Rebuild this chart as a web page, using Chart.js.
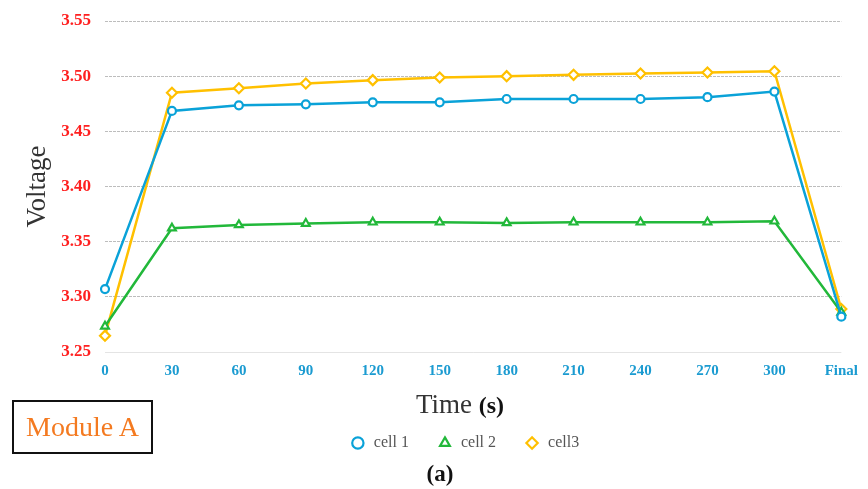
<!DOCTYPE html>
<html>
<head>
<meta charset="utf-8">
<script src="https://cdn.jsdelivr.net/npm/chart.js@4/dist/chart.umd.min.js"></script>
<style>
  body { margin: 0; background: #fff; }
  #wrap { position: relative; width: 868px; height: 489px; }
  .serif { font-family: "Liberation Serif", "Times New Roman", serif; position: absolute; }
  #xtitle { left: 0; width: 920px; text-align: center; top: 389px; font-size: 27px; color: #333; }
  #xtitle b { font-size: 24px; color: #111; }
  #module { left: 12px; top: 400px; width: 137px; height: 50px; border: 2px solid #111;
            color: #f47a20; font-size: 28px; line-height: 50px; text-align: center; }
  #sub { left: 0; width: 880px; text-align: center; top: 461px; font-size: 23px; font-weight: bold; color: #111; }
</style>
</head>
<body>
<div id="wrap">
  <canvas id="chart" width="868" height="489"></canvas>
  <div id="xtitle" class="serif">Time <b>(s)</b></div>
  <div id="module" class="serif">Module A</div>
  <div id="sub" class="serif">(a)</div>
</div>
<script>
const timeLabels = ["0", "30", "60", "90", "120", "150", "180", "210", "240", "270", "300", "Final"];
const cell1 = [3.307, 3.4685, 3.4736, 3.4745, 3.4763, 3.4763, 3.4793, 3.4793, 3.4793, 3.481, 3.486, 3.282];
const cell2 = [3.2733, 3.3622, 3.3652, 3.3664, 3.3676, 3.3676, 3.367, 3.3676, 3.3676, 3.3676, 3.3685, 3.286];
const cell3 = [3.2648, 3.485, 3.489, 3.4934, 3.4964, 3.4988, 3.500, 3.5012, 3.5024, 3.5033, 3.5045, 3.289];
const yMin = 3.25, yMax = 3.55, yStep = 0.05;

const serif = '"Liberation Serif", "Times New Roman", serif';

function series(label, data, color, style, radius) {
  return {
    label: label,
    data: data,
    borderColor: color,
    backgroundColor: "#fff",
    borderWidth: 2.5,
    tension: 0,
    pointStyle: style,
    pointRadius: radius,
    pointBorderWidth: 2.2,
    pointBackgroundColor: "#fff",
    pointBorderColor: color
  };
}

// the legend in the picture sits a bit right of the canvas centre
const legendShift = {
  id: "legendShift",
  afterLayout(chart) {
    chart.legend.left += 43;
    chart.legend.right += 43;
  }
};

new Chart(document.getElementById("chart"), {
  type: "line",
  data: {
    labels: timeLabels,
    datasets: [
      series("cell 1", cell1, "#0aa2d8", "circle", 4),
      series("cell 2", cell2, "#22b83a", "triangle", 4.5),
      series("cell3", cell3, "#ffc000", "rectRot", 5)
    ]
  },
  plugins: [legendShift],
  options: {
    responsive: false,
    devicePixelRatio: 1,
    animation: false,
    layout: { padding: { top: 21, right: 25, bottom: 28, left: 0 } },
    plugins: {
      tooltip: { enabled: false },
      legend: {
        position: "bottom",
        labels: {
          usePointStyle: true,
          boxHeight: 8,
          padding: 28,
          color: "#555",
          font: { family: serif, size: 16 }
        }
      }
    },
    scales: {
      x: {
        offset: false,
        grid: { display: false, drawTicks: false },
        border: { display: false },
        ticks: {
          padding: 10,
          color: "#1b9bd1",
          font: { family: serif, size: 15, weight: "bold" },
          maxRotation: 0,
          autoSkip: false
        },
        afterFit: s => { s.height = 55; }
      },
      y: {
        min: yMin,
        max: yMax,
        grid: {
          drawTicks: false,
          color: ctx => ctx.index === 0 ? "#e4e4e4" : "#bdbdbd",
          lineWidth: 1
        },
        border: {
          display: false,
          dash: ctx => ctx.index === 0 ? [] : [3, 1]
        },
        ticks: {
          stepSize: yStep,
          padding: 14,
          color: "#ff2020",
          font: { family: serif, size: 17, weight: "bold" },
          callback: v => v.toFixed(2)
        },
        title: {
          display: true,
          text: "Voltage",
          color: "#333",
          font: { family: serif, size: 27 },
          padding: { top: 22, bottom: 0 }
        },
        afterFit: s => {
          s.width = 105;
          s.paddingTop = 0;
          s.paddingBottom = 0;
        }
      }
    }
  }
});
</script>
</body>
</html>
